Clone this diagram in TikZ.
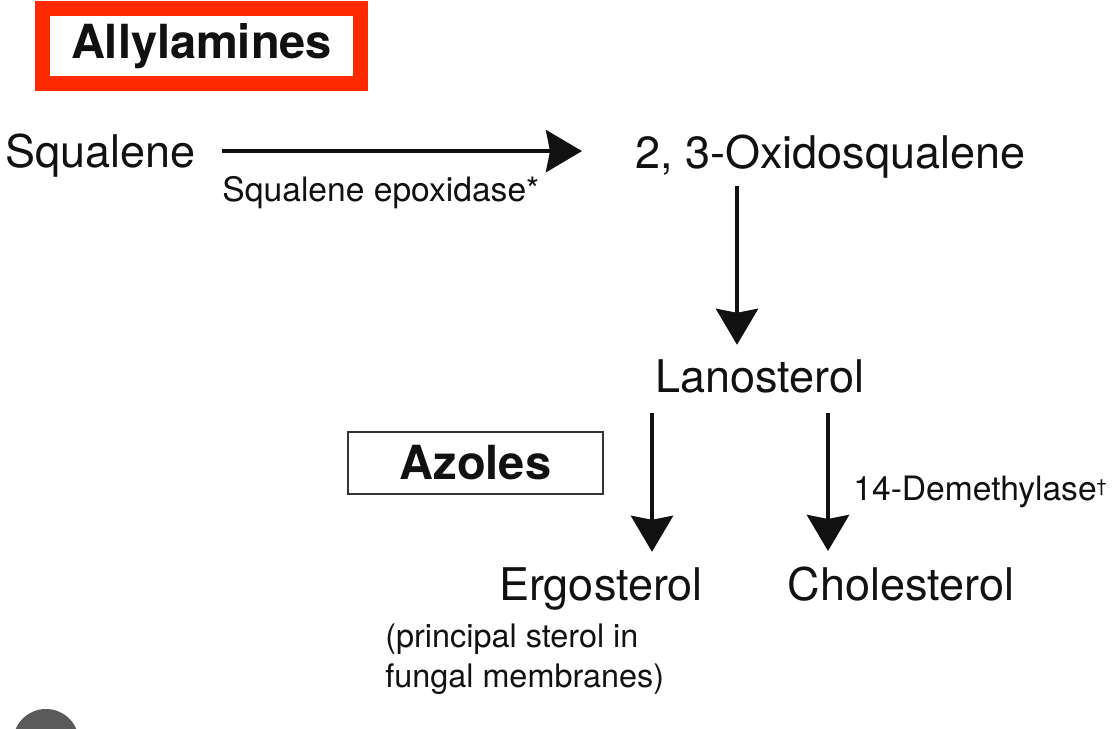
\documentclass[tikz,border=0pt]{standalone}
\usepackage{fontspec}
\setmainfont{TeX Gyre Heros}
\usetikzlibrary{arrows.meta}
\definecolor{ink}{HTML}{111111}
\definecolor{alarm}{HTML}{FF2A00}
\definecolor{boxedge}{HTML}{333333}
\definecolor{badge}{HTML}{5A5A5A}

\begin{document}
\begin{tikzpicture}[x=0.5pt,y=-0.5pt,
  cmpd/.style={font=\fontsize{22.5}{27}\selectfont,text=ink,inner sep=0pt},
  enz/.style={font=\fontsize{16.8}{20}\selectfont,text=ink,inner sep=0pt},
  drug/.style={font=\bfseries\fontsize{23.5}{28}\selectfont,text=ink,inner sep=0pt},
  rxn/.style={-{Stealth[length=18pt,width=21pt,inset=2pt]},line width=2.2pt,ink}]
  \useasboundingbox (0,0) rectangle (1118,728);
  \fill[white] (0,0) rectangle (1118,728);

  % ===== drug classes =====
  \node[drug,draw=alarm,line width=7.5pt,minimum width=159pt,minimum height=37.5pt] (ally) at (201.5,46) {Allylamines};
  \node[drug,draw=boxedge,line width=1pt,minimum width=127.5pt,minimum height=31pt] (azol) at (475.5,463) {Azoles};

  % ===== compounds =====
  \node[cmpd,anchor=base west] (sq) at (5,167) {Squalene};
  \node[cmpd,anchor=base west] (oxi) at (635,168) {2, 3-Oxidosqualene};
  \node[cmpd,anchor=base] (lano) at (760,392) {Lanosterol};
  \node[cmpd,anchor=base] (ergo) at (601,600) {Ergosterol};
  \node[cmpd,anchor=base] (chol) at (901,600) {Cholesterol};

  % ===== enzymes and notes =====
  \node[enz,anchor=base west] (sqe) at (222,201) {Squalene epoxidase*};
  \node[enz,anchor=base west] (dem) at (853,500) {14-Demethylase\raisebox{4pt}{\fontsize{9}{9}\selectfont\textdagger}};
  \node[enz,anchor=north west,align=left,font=\fontsize{16.2}{20}\selectfont] (note) at (385,623) {(principal sterol in\\fungal membranes)};

  % ===== reactions =====
  \draw[rxn,shorten <=13pt,shorten >=26.5pt] ([yshift=2pt]sq.east) -- ([yshift=2pt]sq.east -| oxi.west);
  \draw[rxn,shorten <=3.75pt,shorten >=7pt] ([xshift=51pt]oxi.south west) -- ([xshift=51pt]oxi.south west |- lano.north);
  \draw[rxn,shorten <=10pt,shorten >=7.5pt] ([xshift=-54pt]lano.south) -- ([xshift=-54pt]lano.south |- ergo.north);
  \draw[rxn,shorten <=10pt,shorten >=7.5pt] ([xshift=34pt]lano.south) -- ([xshift=34pt]lano.south |- chol.north);

  % corner badge, cut by the frame
  \begin{scope}
    \clip (0,0) rectangle (1118,728);
    \fill[badge] (46,742) circle[radius=16.5pt];
  \end{scope}
\end{tikzpicture}
\end{document}
